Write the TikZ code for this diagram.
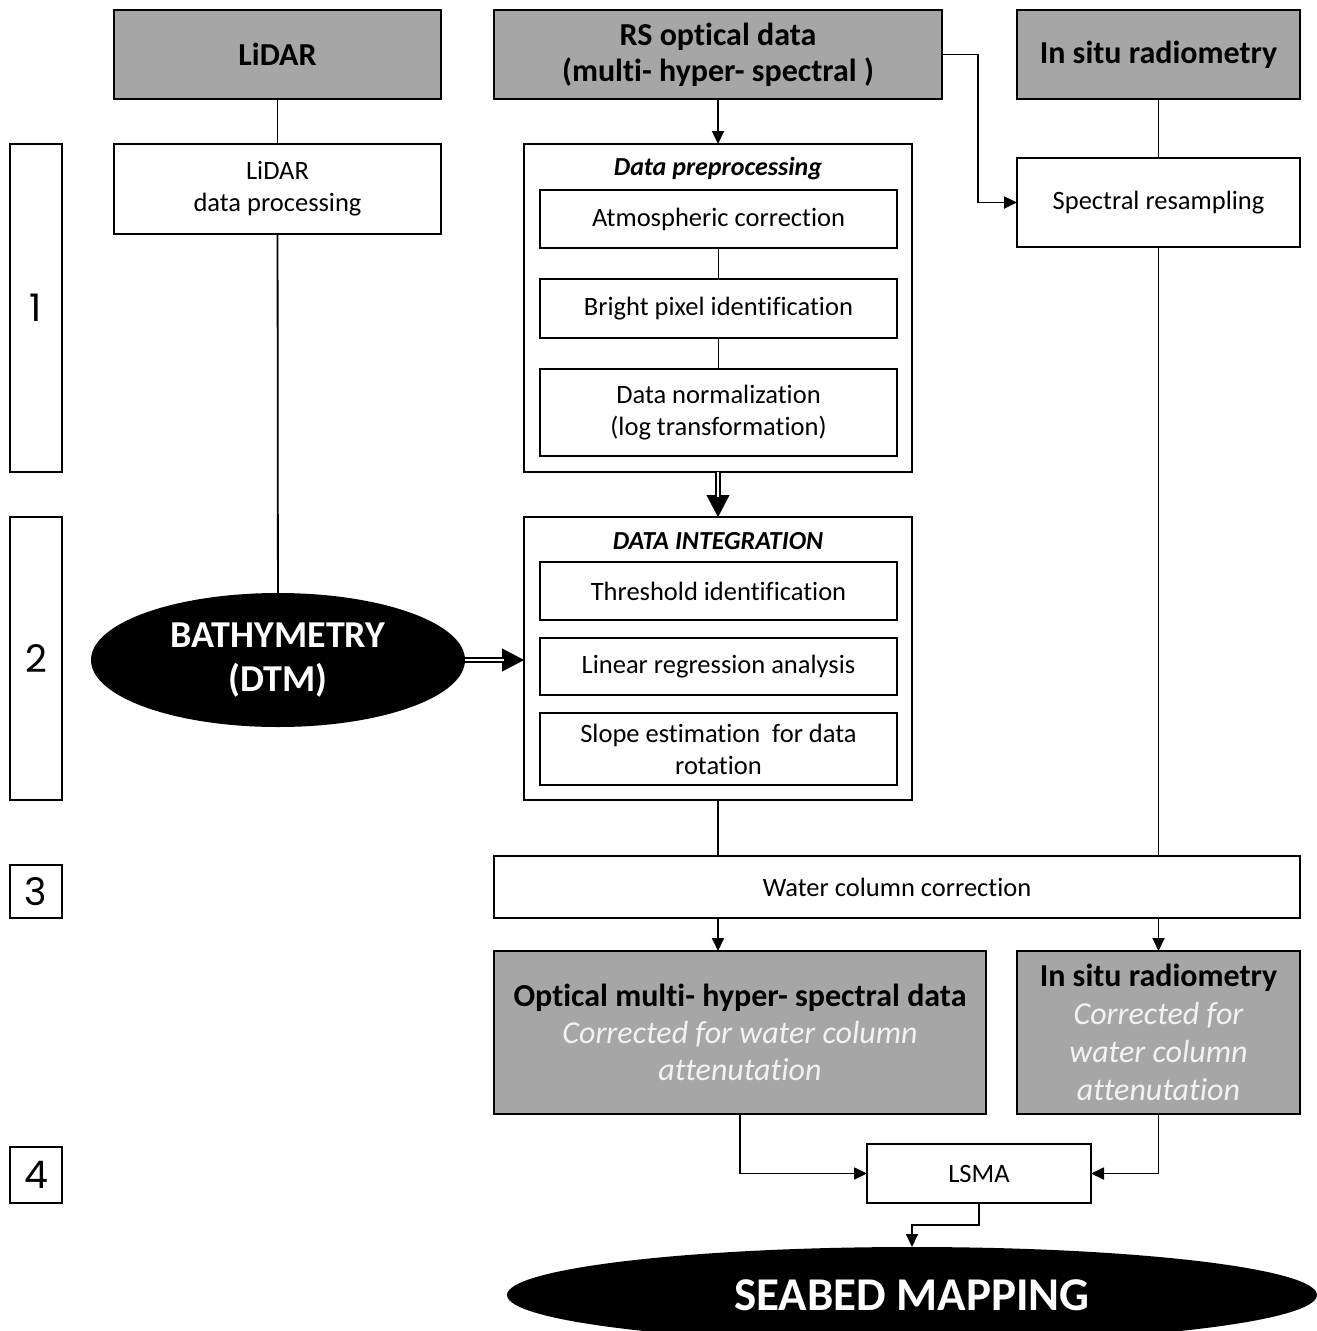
\documentclass[tikz,border=0pt]{standalone}
\usepackage{fontspec}
\setmainfont{Carlito}[Ligatures=NoCommon]
\newfontfamily\stagefont{Poppins}
\usetikzlibrary{arrows.meta,shapes.geometric}
\definecolor{boxgray}{HTML}{A6A6A6}
\definecolor{paletext}{HTML}{F2F2F2}

\begin{document}
\begin{tikzpicture}[x=1pt,y=-1pt,
  every node/.style={inner sep=0pt, outer sep=0pt, align=center},
  frame/.style={draw, line width=1.8pt, rectangle},
  source/.style={frame, fill=boxgray, font=\fontsize{32}{36}\selectfont\bfseries},
  task/.style={frame, fill=white, font=\fontsize{26.5}{32}\selectfont},
  group/.style={frame, fill=white},
  grouptitle/.style={font=\fontsize{26}{32}\selectfont\bfseries\itshape},
  stage/.style={frame, minimum width=52pt, font=\stagefont\fontsize{38}{40}\selectfont},
  blob/.style={ellipse, fill=black, text=white, font=\bfseries},
  conn/.style={line width=1.8pt},
  arr/.style={conn, -{Triangle[length=13pt,width=12pt]}},
  fatarr/.style={line width=0.4pt, -{Triangle[length=22pt,width=23pt]}},
  dbl/.style={line width=1.6pt, double=white, double distance=2.5pt, shorten >=20pt},
  pale/.style={text=paletext}
]
\useasboundingbox (0,0) rectangle (1317,1331);

% stage markers on the left
\node[stage, minimum height=328pt] (s1) at (36,308) {1};
\node[stage, minimum height=283pt] (s2) at (36,658.5) {2};
\node[stage, minimum height=53pt] (s3) at (36,891.5) {3};
\node[stage, minimum height=56pt] (s4) at (36,1175) {4};

% input data sources
\node[source, minimum width=327pt, minimum height=89pt] (lidar) at (277.5,54.5) {LiDAR};
\node[source, minimum width=448pt, minimum height=89pt] (rs) at (718,54.5) {RS optical data\\(multi- hyper- spectral )};
\node[source, minimum width=283pt, minimum height=89pt] (insitu) at (1158.5,54.5) {In situ radiometry};

% LiDAR branch
\node[task, minimum width=327pt, minimum height=90pt] (lidarproc) at (277.5,189) {LiDAR\\data processing};
\node[blob, minimum width=374pt, minimum height=134pt, font=\fontsize{38}{44}\selectfont\bfseries] (bathy) at (278,660) {BATHYMETRY\\(DTM)};

% preprocessing group
\node[group, minimum width=388pt, minimum height=328pt] (prep) at (718,308) {};
\node[grouptitle] (preptitle) at (718,169) {Data preprocessing};
\node[task, minimum width=357pt, minimum height=58pt] (atm) at (718.5,219) {Atmospheric correction};
\node[task, minimum width=357pt, minimum height=59pt] (bright) at (718.5,308.5) {Bright pixel identification};
\node[task, minimum width=357pt, minimum height=87pt] (norm) at (718.5,412.5) {Data normalization\\(log transformation)};

% spectral resampling of in situ data
\node[task, minimum width=283pt, minimum height=89pt] (spec) at (1158.5,202.5) {Spectral resampling};

% integration group
\node[group, minimum width=388pt, minimum height=283pt] (integ) at (718,658.5) {};
\node[grouptitle] (integtitle) at (718,541) {DATA INTEGRATION};
\node[task, minimum width=357pt, minimum height=58pt] (thr) at (718.5,591) {Threshold identification};
\node[task, minimum width=357pt, minimum height=57pt] (lin) at (718.5,666.5) {Linear regression analysis};
\node[task, minimum width=357pt, minimum height=72pt] (slope) at (718.5,749) {Slope estimation\ \ for data\\rotation};

% water column correction and corrected products
\node[task, minimum width=806pt, minimum height=62pt] (water) at (897,887) {Water column correction};
\node[source, minimum width=492pt, minimum height=163pt, font=\fontsize{32}{37}\selectfont\bfseries] (optical) at (740,1032.5)
  {Optical multi- hyper- spectral data\\
   \normalfont\itshape\color{paletext}Corrected for water column\\
   \normalfont\itshape\color{paletext}attenutation};
\node[source, minimum width=283pt, minimum height=163pt, font=\fontsize{32}{38}\selectfont\bfseries] (insitu2) at (1158.5,1032.5)
  {In situ radiometry\\
   \normalfont\itshape\color{paletext}Corrected for\\
   \normalfont\itshape\color{paletext}water column\\
   \normalfont\itshape\color{paletext}attenutation};

% unmixing and final map
\node[task, minimum width=224pt, minimum height=59pt] (lsma) at (979,1173.5) {LSMA};
\node[blob, minimum width=810pt, minimum height=96pt, font=\fontsize{47}{52}\selectfont\bfseries] (seabed) at (912,1295) {SEABED MAPPING};

% connectors
\draw[conn] (lidar) -- (lidarproc);
\draw[conn] (lidarproc) -- (bathy);
\draw[arr] (rs) -- (prep);
\draw[arr] (rs.east) -- ++(36,0) |- (spec.west);
\draw[conn] (insitu) -- (spec);
\draw[conn] (spec.south) -- (spec.south |- water.north);
\draw[conn] (atm) -- (bright);
\draw[conn] (bright) -- (norm);
\draw[fatarr] (prep.south) -- (integ.north);
\draw[dbl] (prep.south) -- (integ.north);
\draw[fatarr] (bathy.east) -- (integ.west |- bathy.east);
\draw[dbl] (bathy.east) -- (integ.west |- bathy.east);
\draw[conn] (integ.south) -- (integ.south |- water.north);
\draw[arr] (integ.south |- water.south) -- (integ.south |- optical.north);
\draw[arr] (spec.south |- water.south) -- (insitu2.north);
\draw[arr] (optical.south) |- (lsma.west);
\draw[arr] (insitu2.south) |- (lsma.east);
\draw[arr] (lsma.south) -- ++(0,22) -| (seabed.north);
\end{tikzpicture}
\end{document}
